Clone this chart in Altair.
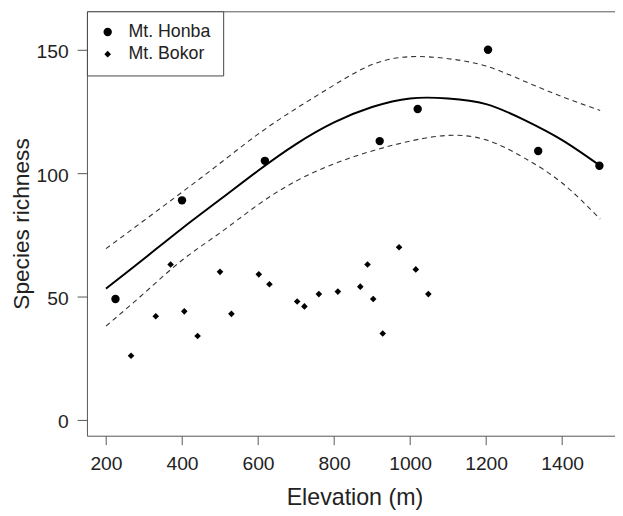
import altair as alt
import pandas as pd

# Observed species richness
honba_elev = [225, 400, 618, 920, 1020, 1205, 1337, 1498]
honba_rich = [49, 89, 105, 113, 126, 150, 109, 103]
bokor_elev = [266, 331, 370, 406, 441, 500, 530, 602, 630, 703, 722, 760,
              810, 869, 888, 903, 928, 971, 1015, 1048]
bokor_rich = [26, 42, 63, 44, 34, 60, 43, 59, 55, 48, 46, 51,
              52, 54, 63, 49, 35, 70, 61, 51]

# Fitted curve and confidence band
curve_elev = [200, 300, 400, 500, 600, 700, 800, 900, 1000, 1100, 1200, 1300, 1400, 1500]
fit_vals   = [53.2, 65.3, 77.6, 89.3, 101.0, 111.8, 120.6, 126.8, 130.3, 130.3, 128.0, 121.6, 113.4, 103.0]
upper_vals = [69.4, 80.8, 92.3, 104.0, 115.8, 126.2, 135.7, 144.0, 147.2, 146.4, 143.4, 137.3, 131.0, 125.4]
lower_vals = [38.0, 51.3, 64.7, 75.8, 87.2, 96.8, 103.8, 109.0, 113.0, 115.3, 113.5, 106.2, 96.0, 81.4]

series_names = ["Mt. Honba", "Mt. Bokor"]
x_ticks = [200, 400, 600, 800, 1000, 1200, 1400]
y_ticks = [0, 50, 100, 150]

pts = pd.DataFrame({
    "elev": honba_elev + bokor_elev,
    "rich": honba_rich + bokor_rich,
    "site": [series_names[0]] * len(honba_elev) + [series_names[1]] * len(bokor_elev),
})
fit_df = pd.DataFrame({"elev": curve_elev, "val": fit_vals})
band_df = pd.DataFrame({
    "elev": curve_elev + curve_elev,
    "val": upper_vals + lower_vals,
    "band": ["upper"] * len(curve_elev) + ["lower"] * len(curve_elev),
})

FONT = "Liberation Sans"
xscale = alt.Scale(domain=[150, 1539], nice=False, zero=False)
yscale = alt.Scale(domain=[-6.4, 165.6], nice=False, zero=False)

xax = alt.Axis(values=x_ticks, format="d", title="Elevation (m)", grid=False, domain=False,
               tickSize=9, tickColor="#555", labelFontSize=19.5, labelColor="#222",
               labelFont=FONT, labelPadding=10, titleFont=FONT, titleFontSize=23.5,
               titleFontWeight="normal", titleColor="#222", titleX=271, titleY=70,
               titleBaseline="alphabetic", labelFlush=False)
yax = alt.Axis(values=y_ticks, format="d", title="Species richness", grid=False, domain=False,
               tickSize=10, tickColor="#555", labelFontSize=19.5, labelColor="#222",
               labelFont=FONT, labelPadding=9, labelBaseline="alphabetic", labelOffset=8,
               titleFont=FONT, titleFontSize=23, titleFontWeight="normal",
               titleColor="#222", titleX=-59, titleY=215, titleAngle=270,
               titleBaseline="alphabetic", titleAlign="center", labelFlush=False)

band = alt.Chart(band_df).mark_line(color="#333", strokeWidth=1.1, strokeDash=[5, 4],
                                    interpolate="natural").encode(
    x=alt.X("elev:Q", scale=xscale, axis=xax),
    y=alt.Y("val:Q", scale=yscale, axis=yax),
    detail="band:N",
)
fit = alt.Chart(fit_df).mark_line(color="black", strokeWidth=2,
                                  interpolate="natural").encode(
    x=alt.X("elev:Q", scale=xscale),
    y=alt.Y("val:Q", scale=yscale),
)
points = alt.Chart(pts).mark_point(filled=True, color="black", opacity=1).encode(
    x=alt.X("elev:Q", scale=xscale),
    y=alt.Y("rich:Q", scale=yscale),
    shape=alt.Shape("site:N", scale=alt.Scale(domain=series_names, range=["circle", "diamond"]),
                    legend=alt.Legend(title=None, orient="top-left", offset=0)),
    size=alt.Size("site:N", scale=alt.Scale(domain=series_names, range=[72, 45]),
                  legend=alt.Legend(title=None, orient="top-left", offset=0)),
)

chart = alt.layer(band, fit, points).properties(
    width=535, height=430,
    autosize=alt.AutoSizeParams(type="none"),
    padding={"left": 80, "top": 0, "right": 0, "bottom": 78},
).configure_view(
    stroke="#555", strokeWidth=1
).configure_legend(
    padding=12, rowPadding=4.4, labelOffset=12, labelFontSize=18, labelFont=FONT,
    labelColor="#222", strokeColor="#444", fillColor="white", symbolFillColor="black",
    symbolStrokeWidth=0,
)

chart.save("out.html", embed_options={"renderer": "svg", "actions": False})
